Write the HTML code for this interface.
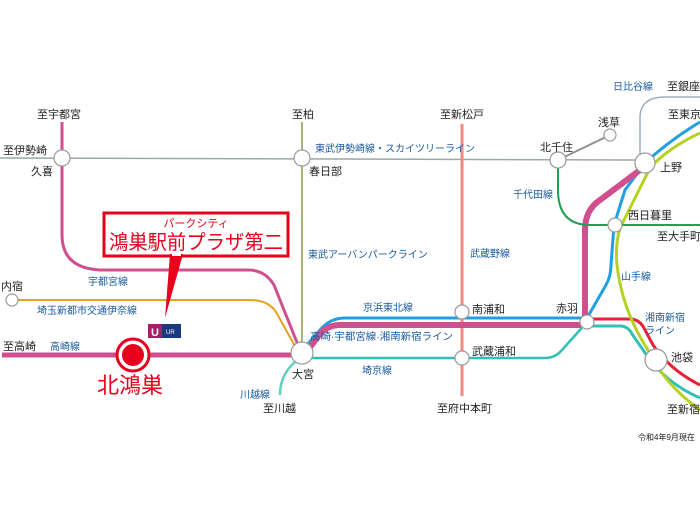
<!DOCTYPE html>
<html><head><meta charset="utf-8"><style>
html,body{margin:0;padding:0;background:#fff}
svg text{font-family:"Liberation Sans","Noto Sans CJK JP",sans-serif}
.b{fill:#1a5aa0;font-size:10px}
.k{fill:#222;font-size:11px}
</style></head><body>
<svg width="700" height="525" viewBox="0 0 700 525" xmlns="http://www.w3.org/2000/svg">
<rect width="700" height="525" fill="#fff"/>
<g fill="none" stroke-linecap="butt">
<line x1="0" y1="158" x2="645" y2="160" stroke="#9aa8a8" stroke-width="1.5"/>
<line x1="302" y1="122" x2="302" y2="353" stroke="#8a9a50" stroke-width="1.5"/>
<path d="M62 122 V235 Q62 268 100 270 H248 Q265 270 274 285 L298 345" stroke="#d0508f" stroke-width="3"/>
<path d="M12 300 H250 Q268 300 276 312 L296 348" stroke="#e8a020" stroke-width="2"/>
<line x1="2" y1="355" x2="298" y2="355" stroke="#d0508f" stroke-width="5"/>
<line x1="462" y1="124" x2="462" y2="396" stroke="#f08a80" stroke-width="3"/>
<path d="M306 346 L320 330 Q330 318 345 318 H587 L606 285 Q611 276 611 265 L614 225 L625 190 L645 163 Q670 140 700 122" stroke="#20a0e0" stroke-width="3"/>
<path d="M308 350 L320 334 Q328 325 340 325 H585 V230 Q585 210 600 200 L640 170" stroke="#d0508f" stroke-width="6"/>
<path d="M302 358 H545 Q555 358 562 350 L587 322" stroke="#30c0b8" stroke-width="2.5"/>
<path d="M587 326 H620 Q628 326 632 334 L650 360 Q670 385 700 398" stroke="#30c0b8" stroke-width="3"/>
<path d="M300 358 Q280 372 280 395" stroke="#60d0c0" stroke-width="2.5"/>
<path d="M590 319 H630 Q640 319 645 330 L653 345 Q670 370 700 385" stroke="#e8203a" stroke-width="3"/>
<path d="M700 133 Q668 148 650 168 L620 228 Q615 245 617 265 Q622 310 648 350 Q665 385 700 410" stroke="#b8d020" stroke-width="3"/>
<path d="M558 160 V190 Q558 225 590 225 H700" stroke="#20a050" stroke-width="2"/>
<path d="M640 162 V118 Q640 97 665 97 H700" stroke="#a0b0c0" stroke-width="1.5"/>
<line x1="558" y1="160" x2="608" y2="136" stroke="#909090" stroke-width="2"/>
</g>
<g fill="#fff" stroke="#999" stroke-width="1.2">
<circle cx="62" cy="158" r="8"/>
<circle cx="302" cy="158" r="8"/>
<circle cx="558" cy="160" r="8"/>
<circle cx="610" cy="135" r="6"/>
<circle cx="645" cy="163" r="10"/>
<circle cx="615" cy="225" r="7"/>
<circle cx="462" cy="312" r="7"/>
<circle cx="587" cy="322" r="7"/>
<circle cx="462" cy="358" r="7"/>
<circle cx="656" cy="360" r="11"/>
<circle cx="302" cy="353" r="11"/>
<circle cx="12" cy="300" r="6"/>
</g>
<circle cx="133" cy="355" r="16" fill="#fff" stroke="#e8001c" stroke-width="3"/>
<circle cx="133" cy="355" r="11" fill="#e8001c"/>
<rect x="104" y="213" width="184" height="43" fill="#fff" stroke="#e8001c" stroke-width="3"/>
<polygon points="170,254 183,254 165,318" fill="#e8001c"/>
<rect x="172" y="252" width="9" height="4" fill="#fff"/>
<text x="196" y="227" text-anchor="middle" fill="#e8001c" font-size="11">パークシティ</text>
<text x="109" y="249" fill="#e8001c" font-size="20" textLength="174" lengthAdjust="spacingAndGlyphs">鴻巣駅前プラザ第二</text>
<rect x="148" y="324" width="14" height="14" fill="#a0206a"/>
<rect x="162" y="324" width="19" height="14" fill="#1a3a80"/>
<text x="166" y="334" fill="#fff" font-size="6">UR</text>
<text x="151" y="336" fill="#fff" font-size="11" font-weight="bold">U</text>
<text x="97" y="393" fill="#e8001c" font-size="22">北鴻巣</text>
<text class="k" x="37" y="118">至宇都宮</text>
<text class="k" x="3" y="154">至伊勢崎</text>
<text class="k" x="31" y="175">久喜</text>
<text class="k" x="292" y="118">至柏</text>
<text class="k" x="309" y="175">春日部</text>
<text class="b" x="315" y="152">東武伊勢崎線・スカイツリーライン</text>
<text class="b" x="308" y="258">東武アーバンパークライン</text>
<text class="b" x="88" y="285">宇都宮線</text>
<text class="k" x="1" y="290">内宿</text>
<text class="b" x="37" y="314">埼玉新都市交通伊奈線</text>
<text class="k" x="3" y="350">至高崎</text>
<text class="b" x="50" y="350">高崎線</text>
<text class="k" x="292" y="378">大宮</text>
<text class="b" x="240" y="398">川越線</text>
<text class="k" x="263" y="412">至川越</text>
<text class="k" x="440" y="118">至新松戸</text>
<text class="b" x="470" y="257">武蔵野線</text>
<text class="k" x="437" y="412">至府中本町</text>
<text class="b" x="363" y="311">京浜東北線</text>
<text class="b" x="310" y="340" font-size="9" textLength="143" lengthAdjust="spacingAndGlyphs">高崎·宇都宮線·湘南新宿ライン</text>
<text class="k" x="472" y="313">南浦和</text>
<text class="k" x="472" y="355">武蔵浦和</text>
<text class="b" x="362" y="374">埼京線</text>
<text class="k" x="556" y="312">赤羽</text>
<text class="k" x="540" y="151">北千住</text>
<text class="k" x="598" y="126">浅草</text>
<text class="b" x="513" y="198">千代田線</text>
<text class="b" x="613" y="90">日比谷線</text>
<text class="k" x="667" y="90">至銀座</text>
<text class="k" x="668" y="118">至東京</text>
<text class="k" x="660" y="171">上野</text>
<text class="k" x="628" y="219">西日暮里</text>
<text class="k" x="657" y="240">至大手町</text>
<text class="b" x="621" y="280">山手線</text>
<text class="b" x="645" y="321">湘南新宿</text>
<text class="b" x="645" y="334">ライン</text>
<text class="k" x="671" y="361">池袋</text>
<text class="k" x="667" y="413">至新宿</text>
<text x="638" y="440" fill="#222" font-size="8">令和4年9月現在</text>
</svg>
</body></html>
